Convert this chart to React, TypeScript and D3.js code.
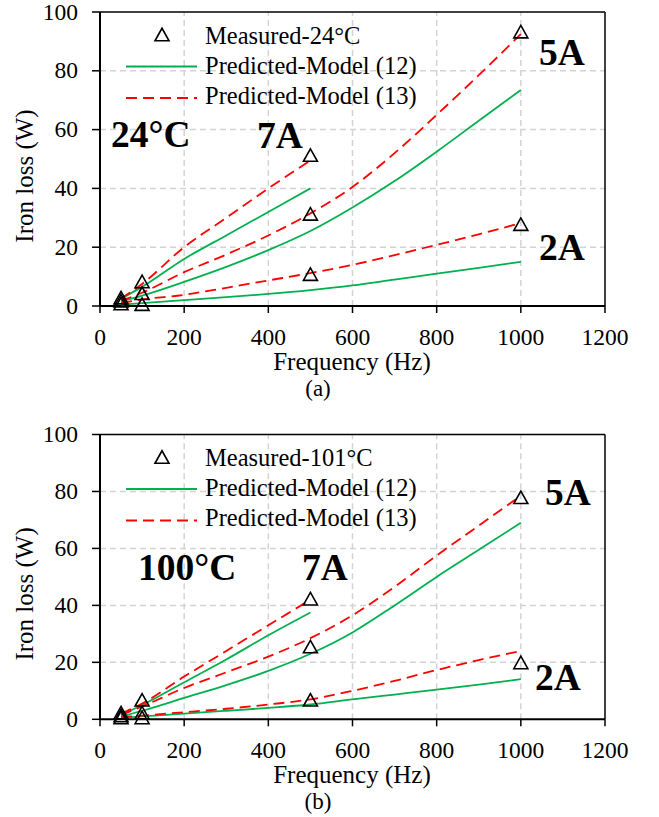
import React from "react";
import * as d3 from "d3";

// ---------- data ----------
const FREQ_LONG = [50, 100, 200, 300, 400, 500, 600, 700, 800, 900, 1000];
const FREQ_SHORT = [50, 100, 200, 300, 400, 500];
const MEAS_FREQ_SHORT = [50, 100, 500];
const MEAS_FREQ_LONG = [50, 100, 500, 1000];
const X_TICKS = [0, 200, 400, 600, 800, 1000, 1200];
const Y_TICKS = [0, 20, 40, 60, 80, 100];

// (a) 24°C
const A_MEAS_7A = [2.5, 8, 51];
const A_MEAS_5A = [1.5, 4, 31, 93];
const A_MEAS_2A = [0.5, 0.3, 10.5, 27.5];
const A_M12_7A = [2.5, 6.5, 16, 24, 32, 40];
const A_M13_7A = [2.5, 7.5, 20, 30, 40, 49.5];
const A_M12_5A = [1.5, 3.5, 8.2, 13.3, 19, 25.5, 33.5, 42.5, 52.5, 63, 73.5];
const A_M13_5A = [1.8, 4.5, 11.5, 17.5, 24, 31.5, 40.5, 52, 65, 78.5, 92.5];
const A_M12_2A = [0.5, 1, 2, 3, 4.1, 5.4, 7, 9, 11, 13, 15];
const A_M13_2A = [1, 2.2, 3.8, 6.2, 8.7, 11.2, 14, 17.3, 20.8, 24.4, 28.2];

// (b) 100°C
const B_MEAS_7A = [2, 6.5, 42];
const B_MEAS_5A = [1, 2, 25.2, 77.6];
const B_MEAS_2A = [0.3, 0.3, 6.5, 19.6];
const B_M12_7A = [1.5, 5, 13, 21, 29.5, 37.5];
const B_M13_7A = [2, 5.5, 15, 24, 33, 42];
const B_M12_5A = [1, 3, 7.5, 12, 17, 23, 30.5, 40, 50, 59.5, 69];
const B_M13_5A = [1.5, 4.5, 11, 16.5, 22, 28.5, 36.5, 46.5, 57.5, 68, 78.5];
const B_M12_2A = [0.5, 1, 2, 3, 4, 5.2, 7, 8.7, 10.4, 12.2, 14.1];
const B_M13_2A = [0.8, 1.3, 2.5, 3.7, 5.2, 7, 10, 13.5, 17.3, 20.8, 24];

const GREEN = "#00b050";
const RED = "#ff0000";
const SERIF = "Liberation Serif, DejaVu Serif, serif";

type Ann = { text: string; x: number; y: number };

type PanelProps = {
  top: number;
  bottom: number;
  measLabel: string;
  meas: number[][];
  m12: number[][];
  m13: number[][];
  anns: Ann[];
  sub: string;
};

function Triangle({ cx, cy }: { cx: number; cy: number }) {
  const h = 12.5;
  const w = 14;
  const p = `M${cx},${cy - h * 0.58} L${cx + w / 2},${cy + h * 0.42} L${cx - w / 2},${cy + h * 0.42} Z`;
  return <path d={p} fill="none" stroke="#000" strokeWidth={1.6} />;
}

function Panel(props: PanelProps) {
  const { top, bottom, measLabel, meas, m12, m13, anns, sub } = props;
  const left = 100;
  const right = 605;
  const x = d3.scaleLinear().domain([0, 1200]).range([left, right]);
  const y = d3.scaleLinear().domain([0, 100]).range([bottom, top]);
  const line = d3
    .line<[number, number]>()
    .x((d) => x(d[0]))
    .y((d) => y(d[1]))
    .curve(d3.curveMonotoneX);
  const toPts = (vals: number[]): [number, number][] => {
    const fr = vals.length === FREQ_SHORT.length ? FREQ_SHORT : FREQ_LONG;
    return vals.map((v, i) => [fr[i], v]);
  };
  const midY = (top + bottom) / 2 + 17;
  const txt = { fontFamily: SERIF } as React.CSSProperties;
  return (
    <g style={txt}>
      {/* grid */}
      {X_TICKS.filter((t) => t > 0 && t < 1200).map((t) => (
        <line key={"gx" + t} x1={x(t)} x2={x(t)} y1={y(0)} y2={y(100)} stroke="#d4d4d4" strokeWidth={1.5} strokeDasharray="6,4" />
      ))}
      {Y_TICKS.filter((t) => t > 0 && t < 100).map((t) => (
        <line key={"gy" + t} x1={left} x2={right} y1={y(t)} y2={y(t)} stroke="#d4d4d4" strokeWidth={1.5} strokeDasharray="6,4" />
      ))}
      {/* frame */}
      <line x1={left} x2={right} y1={top} y2={top} stroke="#000" strokeWidth={1.5} />
      <line x1={right} x2={right} y1={top} y2={bottom} stroke="#000" strokeWidth={1.5} />
      <line x1={left} x2={right} y1={bottom} y2={bottom} stroke="#000" strokeWidth={2} />
      <line x1={left} x2={left} y1={top} y2={bottom} stroke="#000" strokeWidth={2} />
      {X_TICKS.map((t) => (
        <g key={"tx" + t}>
          <line x1={x(t)} x2={x(t)} y1={bottom} y2={bottom + 7} stroke="#000" strokeWidth={1.5} />
          <text x={x(t)} y={bottom + 38.5} textAnchor="middle" style={txt} fontSize={23.5}>
            {t}
          </text>
        </g>
      ))}
      {Y_TICKS.map((t) => (
        <g key={"ty" + t}>
          <line x1={left - 8} x2={left} y1={y(t)} y2={y(t)} stroke="#000" strokeWidth={1.5} />
          <text x={78} y={y(t) + 7.5} textAnchor="end" style={txt} fontSize={23.5}>
            {t}
          </text>
        </g>
      ))}
      {/* model lines */}
      {m12.map((vals, i) => (
        <path key={"g" + i} d={line(toPts(vals)) || ""} fill="none" stroke={GREEN} strokeWidth={1.8} />
      ))}
      {m13.map((vals, i) => (
        <path key={"r" + i} d={line(toPts(vals)) || ""} fill="none" stroke={RED} strokeWidth={1.8} strokeDasharray="11,6" />
      ))}
      {/* measured */}
      {meas.map((vals, i) => {
        const fr = vals.length === MEAS_FREQ_SHORT.length ? MEAS_FREQ_SHORT : MEAS_FREQ_LONG;
        return vals.map((v, j) => <Triangle key={"m" + i + "-" + j} cx={x(fr[j])} cy={y(v)} />);
      })}
      {/* legend */}
      <Triangle cx={162} cy={top + 23.5} />
      <text x={205} y={top + 31.5} style={txt} fontSize={24.5}>{measLabel}</text>
      <line x1={126} x2={197} y1={top + 54.5} y2={top + 54.5} stroke={GREEN} strokeWidth={1.8} />
      <text x={205} y={top + 61.5} style={txt} fontSize={24.5}>Predicted-Model (12)</text>
      <line x1={126} x2={197} y1={top + 86} y2={top + 86} stroke={RED} strokeWidth={1.8} strokeDasharray="11,6" />
      <text x={205} y={top + 91.5} style={txt} fontSize={24.5}>Predicted-Model (13)</text>
      {/* annotations */}
      {anns.map((a, i) => (
        <text key={"a" + i} x={a.x} y={a.y} style={txt} fontSize={37.5} fontWeight="bold">
          {a.text}
        </text>
      ))}
      {/* axis titles */}
      <text x={352} y={bottom + 64} textAnchor="middle" style={txt} fontSize={25}>Frequency (Hz)</text>
      <text x={318} y={bottom + 90} textAnchor="middle" style={txt} fontSize={23}>{sub}</text>
      <text transform={`translate(33,${midY}) rotate(-90)`} textAnchor="middle" style={txt} fontSize={25}>Iron loss (W)</text>
    </g>
  );
}

export default function App() {
  return (
    <svg width={659} height={817} style={{ position: "absolute", left: 0, top: 0, background: "#fff" }}>
      <rect width={659} height={817} fill="#fff" />
      <Panel
        top={12}
        bottom={306}
        measLabel="Measured-24°C"
        meas={[A_MEAS_7A, A_MEAS_5A, A_MEAS_2A]}
        m12={[A_M12_7A, A_M12_5A, A_M12_2A]}
        m13={[A_M13_7A, A_M13_5A, A_M13_2A]}
        anns={[
          { text: "24°C", x: 111, y: 147 },
          { text: "7A", x: 257, y: 148 },
          { text: "5A", x: 539, y: 65 },
          { text: "2A", x: 539, y: 260 },
        ]}
        sub="(a)"
      />
      <Panel
        top={434.5}
        bottom={719.3}
        measLabel="Measured-101°C"
        meas={[B_MEAS_7A, B_MEAS_5A, B_MEAS_2A]}
        m12={[B_M12_7A, B_M12_5A, B_M12_2A]}
        m13={[B_M13_7A, B_M13_5A, B_M13_2A]}
        anns={[
          { text: "100°C", x: 138, y: 580 },
          { text: "7A", x: 302, y: 580 },
          { text: "5A", x: 545, y: 505 },
          { text: "2A", x: 535, y: 690 },
        ]}
        sub="(b)"
      />
    </svg>
  );
}
